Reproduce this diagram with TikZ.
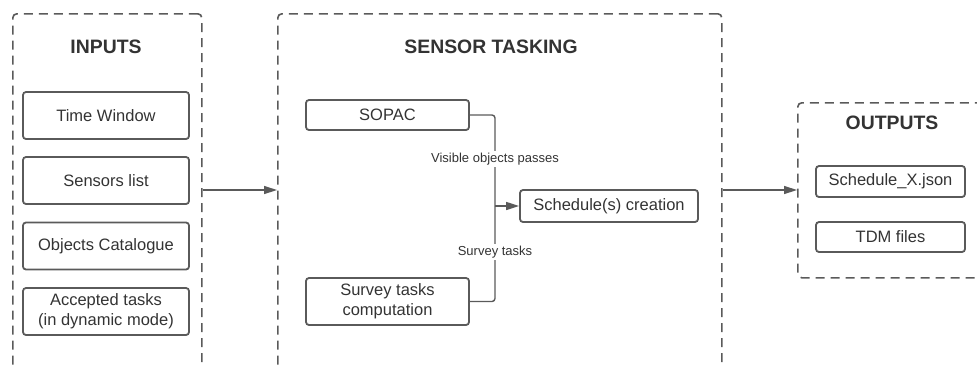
\documentclass[tikz,border=0pt]{standalone}
\usepackage{fontspec}
\setmainfont{Liberation Sans}
\usetikzlibrary{arrows.meta}
\definecolor{linegray}{HTML}{5A5A5A}
\definecolor{textgray}{HTML}{333333}

\begin{document}
\begin{tikzpicture}[x=1pt,y=-1pt]
\tikzstyle{group}=[draw=linegray,line width=1.6pt,dash pattern=on 9pt off 6pt,rounded corners=4pt,anchor=north west,inner sep=0pt]
\tikzstyle{block}=[draw=linegray,line width=1.8pt,rounded corners=3pt,text=textgray,font=\fontsize{16.5}{20}\selectfont,align=center,inner sep=0pt]
\tikzstyle{title}=[text=textgray,font=\bfseries\fontsize{19.4}{22}\selectfont]
\tikzstyle{link}=[draw=linegray,line width=1.4pt,rounded corners=3pt]
\tikzstyle{flow}=[draw=linegray,line width=1.4pt,-{Triangle[length=13pt,width=8pt]}]
\tikzstyle{tag}=[fill=white,text=textgray,font=\fontsize{13}{15}\selectfont,inner sep=1.5pt]

\useasboundingbox (0,0) rectangle (977,365);
\clip (0,0) rectangle (977,365);

% containers
\path (12,13) node[group,minimum width=189pt,minimum height=380pt](inputs){}
      (277,13) node[group,minimum width=444pt,minimum height=380pt](tasking){}
      (797,102) node[group,minimum width=220pt,minimum height=175pt](outputs){};
\coordinate (level) at (0,190);

% inputs
\path (106,47) node[title](tin){INPUTS};
\path (106,115.5) node[block,minimum width=166pt,minimum height=47pt](window){Time Window}
      (106,180.5) node[block,minimum width=166pt,minimum height=47pt](sensors){Sensors list}
      (106,246) node[block,minimum width=166pt,minimum height=47pt](catalogue){Objects Catalogue}
      (106,311.5) node[block,minimum width=166pt,minimum height=47pt](accepted){Accepted tasks\\(in dynamic mode)};

% sensor tasking
\path (491,47) node[title](ttask){SENSOR TASKING};
\path (387.5,115) node[block,minimum width=163pt,minimum height=30pt](sopac){SOPAC}
      (387.5,301.5) node[block,minimum width=163pt,minimum height=47pt](survey){Survey tasks\\computation}
      (609,206) node[block,minimum width=178pt,minimum height=32pt](schedule){Schedule(s) creation};
\coordinate (join) at (495,206);
\draw[link] (sopac.east) -| (join);
\draw[link] (survey.east) -| (join);
\draw[flow] (join) -- (schedule.west);
\path (495,159) node[tag](lvis){Visible objects passes}
      (495,252) node[tag](lsur){Survey tasks};

% outputs
\path (892,123) node[title](tout){OUTPUTS};
\path (890.5,181.5) node[block,minimum width=149pt,minimum height=31pt](json){Schedule\_X.json}
      (890.5,237) node[block,minimum width=149pt,minimum height=30pt](tdm){TDM files};

\draw[flow] (inputs.east |- level) -- (tasking.west |- level);
\draw[flow] (tasking.east |- level) -- (outputs.west |- level);
\end{tikzpicture}
\end{document}
